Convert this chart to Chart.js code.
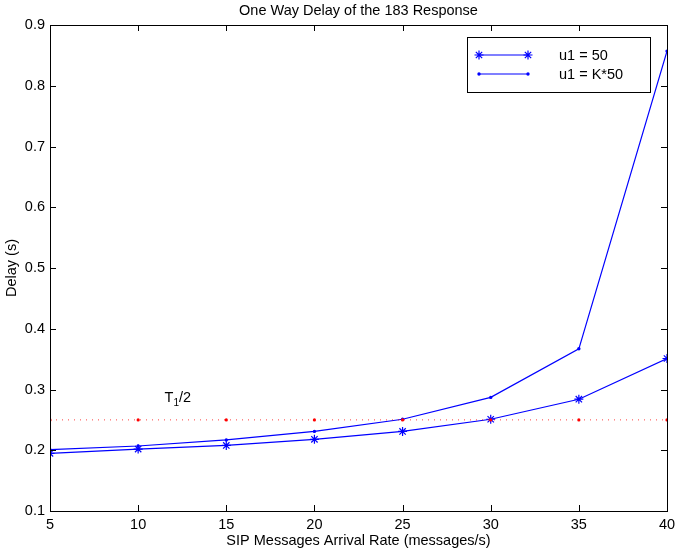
<!DOCTYPE html>
<html>
<head>
<meta charset="utf-8">
<script src="https://cdn.jsdelivr.net/npm/chart.js@4/dist/chart.umd.min.js"></script>
<style>
html, body { margin: 0; padding: 0; background: #fff; }
</style>
</head>
<body>
<canvas id="delay-chart" width="676" height="553"></canvas>
<script>
const rates = [5, 10, 15, 20, 25, 30, 35, 40];
const delayU50 = [0.195, 0.202, 0.208, 0.218, 0.231, 0.251, 0.284, 0.351];
const delayK50 = [0.201, 0.207, 0.217, 0.231, 0.251, 0.287, 0.367, 0.857];
const halfT1 = [0.25, 0.25, 0.25, 0.25, 0.25, 0.25, 0.25, 0.25];
const seriesNames = ["u1 = 50", "u1 = K*50"];
const xTicks = [5, 10, 15, 20, 25, 30, 35, 40];
const yTicks = [0.1, 0.2, 0.3, 0.4, 0.5, 0.6, 0.7, 0.8, 0.9];
const chartTitle = "One Way Delay of the 183 Response";
const xTitle = "SIP Messages Arrival Rate (messages/s)";
const yTitle = "Delay (s)";
const noteAt = [11.5, 0.28]; // where the T1/2 label sits

const FONT = "'Liberation Sans', Arial, Helvetica, sans-serif";
const FS = 14.5;
const BLUE = "#0000ff";

function drawStar(ctx, x, y, r) {
    ctx.beginPath();
    ctx.moveTo(x - r, y); ctx.lineTo(x + r, y);
    ctx.moveTo(x, y - r); ctx.lineTo(x, y + r);
    const d = r * 0.7071;
    ctx.moveTo(x - d, y - d); ctx.lineTo(x + d, y + d);
    ctx.moveTo(x - d, y + d); ctx.lineTo(x + d, y - d);
    ctx.stroke();
}

// matlab style box, inside ticks, title, legend and T1/2 note
const matlabFrame = {
    id: 'matlab-frame',
    afterDraw(chart) {
        const {ctx, chartArea: {left, top, right, bottom}, scales: {x, y}} = chart;
        ctx.save();
        ctx.strokeStyle = "#000";
        ctx.lineWidth = 1;
        ctx.strokeRect(left + 0.5, top + 0.5, right - left, bottom - top);
        ctx.beginPath();
        const tl = 6;
        xTicks.forEach(v => {
            const px = Math.round(x.getPixelForValue(v)) + 0.5;
            ctx.moveTo(px, bottom); ctx.lineTo(px, bottom - tl);
            ctx.moveTo(px, top); ctx.lineTo(px, top + tl);
        });
        yTicks.forEach(v => {
            const py = Math.round(y.getPixelForValue(v)) + 0.5;
            ctx.moveTo(left, py); ctx.lineTo(left + tl, py);
            ctx.moveTo(right, py); ctx.lineTo(right - tl, py);
        });
        ctx.stroke();

        // title
        ctx.fillStyle = "#000";
        ctx.font = FS + "px " + FONT;
        ctx.textAlign = "center";
        ctx.textBaseline = "middle";
        ctx.fillText(chartTitle, (left + right) / 2, 11);

        // legend
        const lx = right - 200, ly = top + 12;
        ctx.fillStyle = "#fff";
        ctx.fillRect(lx, ly, 183, 55);
        ctx.strokeStyle = "#000";
        ctx.strokeRect(lx + 0.5, ly + 0.5, 183, 55);
        ctx.textAlign = "left";
        seriesNames.forEach((name, i) => {
            const yy = ly + 18 + i * 19;
            ctx.strokeStyle = BLUE;
            ctx.fillStyle = BLUE;
            ctx.lineWidth = 1.2;
            ctx.beginPath();
            ctx.moveTo(lx + 12, yy); ctx.lineTo(lx + 61, yy);
            ctx.stroke();
            [lx + 12, lx + 61].forEach(mx => {
                if (i === 0) {
                    drawStar(ctx, mx, yy, 4.5);
                } else {
                    ctx.beginPath(); ctx.arc(mx, yy, 1.7, 0, Math.PI * 2); ctx.fill();
                }
            });
            ctx.fillStyle = "#000";
            ctx.fillText(name, lx + 92, yy + 1);
        });

        // T1/2 note
        const nx = x.getPixelForValue(noteAt[0]);
        const ny = y.getPixelForValue(noteAt[1]);
        ctx.font = FS + "px " + FONT;
        ctx.textBaseline = "alphabetic";
        ctx.fillText("T", nx, ny);
        const tw = ctx.measureText("T").width;
        ctx.font = "10px " + FONT;
        ctx.fillText("1", nx + tw, ny + 4);
        const sw = ctx.measureText("1").width;
        ctx.font = FS + "px " + FONT;
        ctx.fillText("/2", nx + tw + sw, ny);
        ctx.restore();
    }
};

const toPoints = arr => arr.map((v, i) => ({x: rates[i], y: v}));

new Chart(document.getElementById("delay-chart"), {
    type: 'line',
    data: {
        datasets: [{
            label: "T1/2",
            data: toPoints(halfT1),
            borderColor: "rgba(255,0,0,0.75)",
            borderWidth: 1,
            borderDash: [1, 5],
            pointStyle: 'circle',
            pointRadius: 1.6,
            pointBackgroundColor: "#ff0000",
            pointBorderWidth: 0,
            tension: 0
        }, {
            label: seriesNames[0],
            data: toPoints(delayU50),
            borderColor: BLUE,
            borderWidth: 1.2,
            pointStyle: 'star',
            pointRadius: 4.5,
            pointBorderColor: BLUE,
            pointBorderWidth: 1.2,
            tension: 0
        }, {
            label: seriesNames[1],
            data: toPoints(delayK50),
            borderColor: BLUE,
            borderWidth: 1.2,
            pointStyle: 'circle',
            pointRadius: 1.7,
            pointBackgroundColor: BLUE,
            pointBorderWidth: 0,
            tension: 0
        }]
    },
    options: {
        responsive: false,
        animation: false,
        layout: { padding: { left: 0, top: 25, right: 9, bottom: 0 } },
        plugins: {
            legend: { display: false },
            tooltip: { enabled: false }
        },
        scales: {
            x: {
                type: 'linear',
                min: 5, max: 40,
                afterFit(scale) { scale.height = 42; scale.paddingLeft = 0; scale.paddingRight = 0; },
                afterBuildTicks(scale) { scale.ticks = xTicks.map(v => ({value: v})); },
                grid: { display: false, drawTicks: false },
                border: { display: false },
                ticks: { color: "#000", padding: 5, font: { family: FONT, size: FS } },
                title: { display: true, text: xTitle, color: "#000", padding: { top: 0, bottom: 3 }, font: { family: FONT, size: FS } }
            },
            y: {
                min: 0.1, max: 0.9,
                afterFit(scale) { scale.width = 50; },
                afterBuildTicks(scale) { scale.ticks = yTicks.map(v => ({value: v})); },
                grid: { display: false, drawTicks: false },
                border: { display: false },
                ticks: { color: "#000", padding: 5, font: { family: FONT, size: FS }, callback: v => v.toFixed(1) },
                title: { display: true, text: yTitle, color: "#000", padding: { top: 3, bottom: 0 }, font: { family: FONT, size: FS } }
            }
        }
    },
    plugins: [matlabFrame]
});
</script>
</body>
</html>
